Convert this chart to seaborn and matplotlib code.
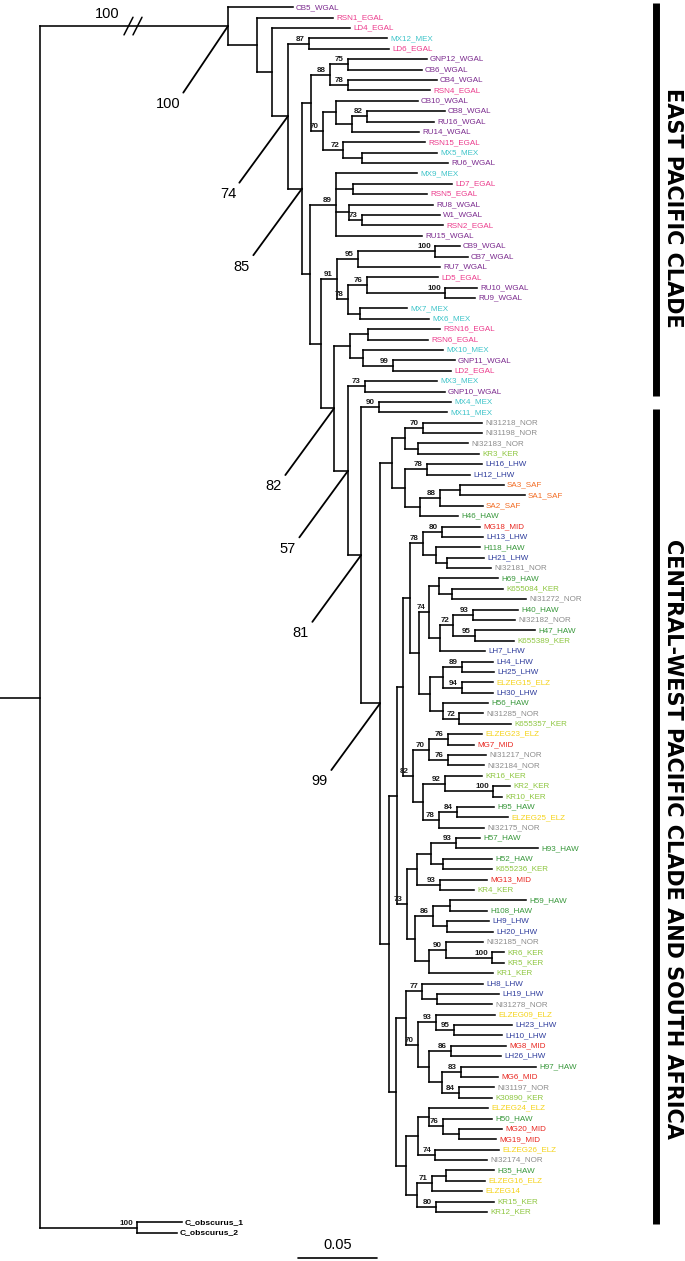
import numpy as np
import pandas as pd
import matplotlib
matplotlib.use('Agg')
import matplotlib.pyplot as plt
from matplotlib import font_manager as fm
import seaborn as sns

# tips in drawing order (top to bottom)
tip_names = [
    'CB5_WGAL', 'RSN1_EGAL', 'LD4_EGAL', 'MX12_MEX', 'LD6_EGAL', 'GNP12_WGAL', 'CB6_WGAL', 'CB4_WGAL',
    'RSN4_EGAL', 'CB10_WGAL', 'CB8_WGAL', 'RU16_WGAL', 'RU14_WGAL', 'RSN15_EGAL', 'MX5_MEX', 'RU6_WGAL',
    'MX9_MEX', 'LD7_EGAL', 'RSN5_EGAL', 'RU8_WGAL', 'W1_WGAL', 'RSN2_EGAL', 'RU15_WGAL', 'CB9_WGAL',
    'CB7_WGAL', 'RU7_WGAL', 'LD5_EGAL', 'RU10_WGAL', 'RU9_WGAL', 'MX7_MEX', 'MX6_MEX', 'RSN16_EGAL',
    'RSN6_EGAL', 'MX10_MEX', 'GNP11_WGAL', 'LD2_EGAL', 'MX3_MEX', 'GNP10_WGAL', 'MX4_MEX', 'MX11_MEX',
    'NI31218_NOR', 'NI31198_NOR', 'NI32183_NOR', 'KR3_KER', 'LH16_LHW', 'LH12_LHW', 'SA3_SAF', 'SA1_SAF',
    'SA2_SAF', 'H46_HAW', 'MG18_MID', 'LH13_LHW', 'H118_HAW', 'LH21_LHW', 'NI32181_NOR', 'H69_HAW',
    'K655084_KER', 'NI31272_NOR', 'H40_HAW', 'NI32182_NOR', 'H47_HAW', 'K655389_KER', 'LH7_LHW', 'LH4_LHW',
    'LH25_LHW', 'ELZEG15_ELZ', 'LH30_LHW', 'H56_HAW', 'NI31285_NOR', 'K655357_KER', 'ELZEG23_ELZ', 'MG7_MID',
    'NI31217_NOR', 'NI32184_NOR', 'KR16_KER', 'KR2_KER', 'KR10_KER', 'H95_HAW', 'ELZEG25_ELZ', 'NI32175_NOR',
    'H57_HAW', 'H93_HAW', 'H52_HAW', 'K655236_KER', 'MG13_MID', 'KR4_KER', 'H59_HAW', 'H108_HAW',
    'LH9_LHW', 'LH20_LHW', 'NI32185_NOR', 'KR6_KER', 'KR5_KER', 'KR1_KER', 'LH8_LHW', 'LH19_LHW',
    'NI31278_NOR', 'ELZEG09_ELZ', 'LH23_LHW', 'LH10_LHW', 'MG8_MID', 'LH26_LHW', 'H97_HAW', 'MG6_MID',
    'NI31197_NOR', 'K30890_KER', 'ELZEG24_ELZ', 'H50_HAW', 'MG20_MID', 'MG19_MID', 'ELZEG26_ELZ', 'NI32174_NOR',
    'H35_HAW', 'ELZEG16_ELZ', 'ELZEG14', 'KR15_KER', 'KR12_KER', 'C_obscurus_1', 'C_obscurus_2',
]

# distance from the root to each tip (scale bar 0.05 = 79 units)
tip_depth = [
    253, 293, 310, 347, 349, 387, 382, 397, 390, 378, 405, 394, 379, 385, 397, 408,
    377, 412, 387, 393, 400, 403, 382, 420, 428, 400, 398, 437, 435, 367, 389, 400,
    388, 403, 415, 411, 397, 405, 411, 407,
    442, 442, 428, 439, 442, 430, 464, 485, 443, 418, 440, 443, 440, 444, 451, 458,
    463, 486, 478, 475, 495, 474, 445, 453, 454, 453, 453, 448, 443, 471, 442, 434,
    446, 444, 442, 470, 462, 454, 468, 444, 440, 498, 452, 452, 447, 434, 486, 447,
    449, 453, 443, 464, 464, 453, 443, 459, 452, 455, 472, 462, 466, 461, 496, 458,
    454, 452, 448, 452, 462, 456, 459, 447, 454, 445, 442, 454, 447, 142, 137,
]

# clades: (first tip, last tip, node depth, bootstrap)
clades = [
    (0, 118, 0, ''), (0, 116, 188, ''), (1, 116, 217, ''), (2, 116, 232, ''), (3, 116, 248, ''),
    (3, 4, 269, '87'), (5, 116, 262, ''), (5, 15, 271, ''), (5, 8, 290, '88'), (5, 6, 308, '75'),
    (7, 8, 308, '78'), (9, 15, 283, '70'), (9, 12, 296, ''), (10, 12, 312, ''), (10, 11, 327, '82'),
    (13, 15, 303, '72'), (14, 15, 322, ''), (16, 116, 270, ''), (16, 22, 296, '89'), (17, 18, 313, ''),
    (19, 21, 309, ''), (20, 21, 322, '73'), (23, 116, 281, ''), (23, 30, 297, '91'), (23, 25, 318, '95'),
    (23, 24, 395, '100'), (26, 30, 308, '78'), (26, 28, 327, '76'), (27, 28, 405, '100'), (29, 30, 320, ''),
    (31, 116, 294, ''), (31, 35, 310, ''), (31, 32, 328, ''), (33, 35, 323, ''), (34, 35, 353, '99'),
    (36, 116, 308, ''), (36, 37, 325, '73'), (38, 116, 321, ''), (38, 39, 339, '90'), (40, 116, 340, ''),
    (40, 49, 352, ''), (40, 43, 365, ''), (40, 41, 383, '70'), (42, 43, 378, ''), (44, 49, 365, ''),
    (44, 45, 387, '78'), (46, 49, 380, ''), (46, 48, 400, '88'), (46, 47, 420, ''), (50, 116, 349, ''),
    (50, 93, 357, ''), (50, 79, 363, ''), (50, 69, 370, ''), (50, 54, 383, '78'), (50, 51, 402, '80'),
    (52, 54, 396, ''), (53, 54, 407, ''), (55, 69, 379, ''), (55, 62, 389, '74'), (55, 57, 399, ''),
    (56, 57, 412, ''), (58, 62, 400, ''), (58, 61, 413, '72'), (58, 59, 433, '93'), (60, 61, 435, '95'),
    (63, 69, 390, ''), (63, 66, 403, ''), (63, 64, 422, '89'), (65, 66, 422, '94'), (67, 69, 403, ''),
    (68, 69, 419, '72'), (70, 79, 373, '82'), (70, 73, 389, '70'), (70, 71, 408, '76'), (72, 73, 408, '76'),
    (74, 79, 383, ''), (74, 76, 405, '92'), (75, 76, 453, '100'), (77, 79, 399, '78'), (77, 78, 417, '84'),
    (80, 93, 367, '73'), (80, 85, 377, ''), (80, 83, 391, ''), (80, 81, 416, '93'), (82, 83, 403, ''),
    (84, 85, 400, '93'), (86, 93, 375, ''), (86, 89, 393, '86'), (86, 87, 410, ''), (88, 89, 407, ''),
    (90, 93, 389, ''), (90, 92, 406, '90'), (91, 92, 452, '100'), (94, 116, 356, ''), (94, 105, 366, ''),
    (94, 96, 382, '77'), (95, 96, 397, ''), (97, 105, 378, '70'), (97, 99, 396, '93'), (98, 99, 414, '95'),
    (100, 105, 389, ''), (100, 101, 411, '86'), (102, 105, 402, ''), (102, 103, 421, '83'), (104, 105, 419, '84'),
    (106, 116, 366, ''), (106, 111, 378, ''), (106, 109, 389, ''), (107, 109, 403, '76'), (108, 109, 419, ''),
    (110, 111, 395, '74'), (112, 116, 377, ''), (112, 114, 392, '71'), (112, 113, 406, ''), (115, 116, 396, '80'),
    (117, 118, 97, '100'),
]

# bootstrap values shown with leader lines
leader_first = [0, 3, 5, 31, 36, 38, 40]
leader_last = [116, 116, 116, 116, 116, 116, 116]
leader_text = ['100', '74', '85', '82', '57', '81', '99']
ingroup_support = '100'
root_stem_y = 66.5

clade_names = ['EAST PACIFIC CLADE', 'CENTRAL-WEST PACIFIC CLADE AND SOUTH AFRICA']
clade_bar_top = [-0.4, 38.7]
clade_bar_bottom = [37.4, 117.2]
clade_label_y = [19.3, 80.1]

scale_len = 79
scale_label = '0.05'

region_colors = {
    'WGAL': '#7b2a8e', 'EGAL': '#ec3b8c', 'MEX': '#3ec4c9', 'NOR': '#8c8c8c', 'KER': '#8dc63f',
    'LHW': '#2e3c9c', 'SAF': '#f26b22', 'HAW': '#37973a', 'MID': '#e8261f', 'ELZ': '#f5d31a',
}

sns.set_theme(style='white')
plt.rcParams['text.color'] = 'black'

# prefer a narrow face when one is installed
installed = {f.name for f in fm.fontManager.ttflist}
if 'Liberation Sans Narrow' in installed:
    label_family, tip_size, big_size = 'Liberation Sans Narrow', 6.7, 12
else:
    label_family, tip_size, big_size = 'Liberation Sans', 5.8, 10.5
plt.rcParams['font.family'] = [label_family, 'DejaVu Sans']

# ---- lay out the tree ----
order = sorted(range(len(clades)), key=lambda k: clades[k][1] - clades[k][0])
node_y = {}
rows = []
seg = 0
for k in order:
    a, b, d, s = clades[k]
    inner = [j for j in range(len(clades)) if j != k and a <= clades[j][0] and clades[j][1] <= b
             and (clades[j][0], clades[j][1]) != (a, b)]
    top = [j for j in inner
           if not any(i != j and clades[i][0] <= clades[j][0] and clades[j][1] <= clades[i][1]
                      and (clades[i][0], clades[i][1]) != (clades[j][0], clades[j][1]) for i in inner)]
    covered = set()
    kids = []
    for j in top:
        kids.append((node_y[j], clades[j][2]))
        covered.update(range(clades[j][0], clades[j][1] + 1))
    for t in range(a, b + 1):
        if t not in covered:
            kids.append((float(t), tip_depth[t]))
    ys = [ky for ky, _ in kids]
    node_y[k] = (min(ys) + max(ys)) / 2
    for ky, kd in kids:
        rows += [(d, ky, seg), (kd, ky, seg)]
        seg += 1
    rows += [(d, min(ys), seg), (d, max(ys), seg)]
    seg += 1

rows += [(-40, root_stem_y, seg), (0, root_stem_y, seg)]
branches = pd.DataFrame(rows, columns=['x', 'y', 'seg'])

fig = plt.figure(figsize=(6.85, 12.61), dpi=100)
ax = fig.add_axes([0, 0, 1, 1])
sns.lineplot(data=branches, x='x', y='y', units='seg', estimator=None, sort=False,
             color='black', linewidth=1.15, ax=ax, legend=False)
for ln in ax.get_lines():
    ln.set_solid_capstyle('projecting')

ax.set_xlim(-40, 645)
ax.set_ylim(120.72, -0.70)
ax.axis('off')

# tip labels
for t, name in enumerate(tip_names):
    region = 'ELZ' if name.startswith('ELZ') else name.split('_')[-1]
    col = region_colors.get(region, 'black')
    if col == 'black':
        ax.text(tip_depth[t] + 3, t, name, color=col, fontsize=tip_size + 0.3, fontweight='bold',
                va='center', ha='left')
    else:
        ax.text(tip_depth[t] + 3, t, name, color=col, fontsize=tip_size, va='center', ha='left')

# bootstrap labels above stems
for k, (a, b, d, s) in enumerate(clades):
    if s:
        ax.annotate(s, xy=(d, node_y[k]), xytext=(-4, 1), textcoords='offset pixels',
                    ha='right', va='bottom', fontsize=5.8, fontweight='bold', color='#1a1a1a',
                    family=['Liberation Sans', 'DejaVu Sans'])

# leader bootstrap labels
for a, b, txt in zip(leader_first, leader_last, leader_text):
    k = [i for i in range(len(clades)) if clades[i][0] == a and clades[i][1] == b][0]
    ax.annotate(txt, xy=(clades[k][2], node_y[k]), xytext=(-60, -78), textcoords='offset pixels',
                ha='center', va='center', fontsize=big_size, color='black',
                arrowprops=dict(arrowstyle='-', color='black', lw=1.3, shrinkA=1, shrinkB=0,
                                relpos=(1.0, 1.0)))

# broken ingroup branch with its support
k_in = [i for i in range(len(clades)) if clades[i][0] == 0 and clades[i][1] == 116][0]
yb = node_y[k_in]
for dx in (-4, 5):
    ax.plot([88 + dx, 97 + dx], [yb + 0.85, yb - 0.85], color='black', lw=1.1)
ax.annotate(ingroup_support, xy=(93, yb), xytext=(-26, 12), textcoords='offset pixels',
            ha='center', va='center', fontsize=big_size, color='black')

# clade bars and names
for name, top_y, bot_y, ly in zip(clade_names, clade_bar_top, clade_bar_bottom, clade_label_y):
    ax.plot([616, 616], [top_y, bot_y], color='black', lw=5, solid_capstyle='butt')
    ax.text(633, ly, name, rotation=-90, ha='center', va='center', color='black',
            fontsize=15, fontweight='bold', family=['DejaVu Sans'])

# scale bar
ax.plot([258, 258 + scale_len], [120.4, 120.4], color='black', lw=1.2)
ax.text(258 + scale_len / 2, 119.2, scale_label, ha='center', va='center', fontsize=big_size,
        color='black')

fig.savefig('out.png', dpi=100)
